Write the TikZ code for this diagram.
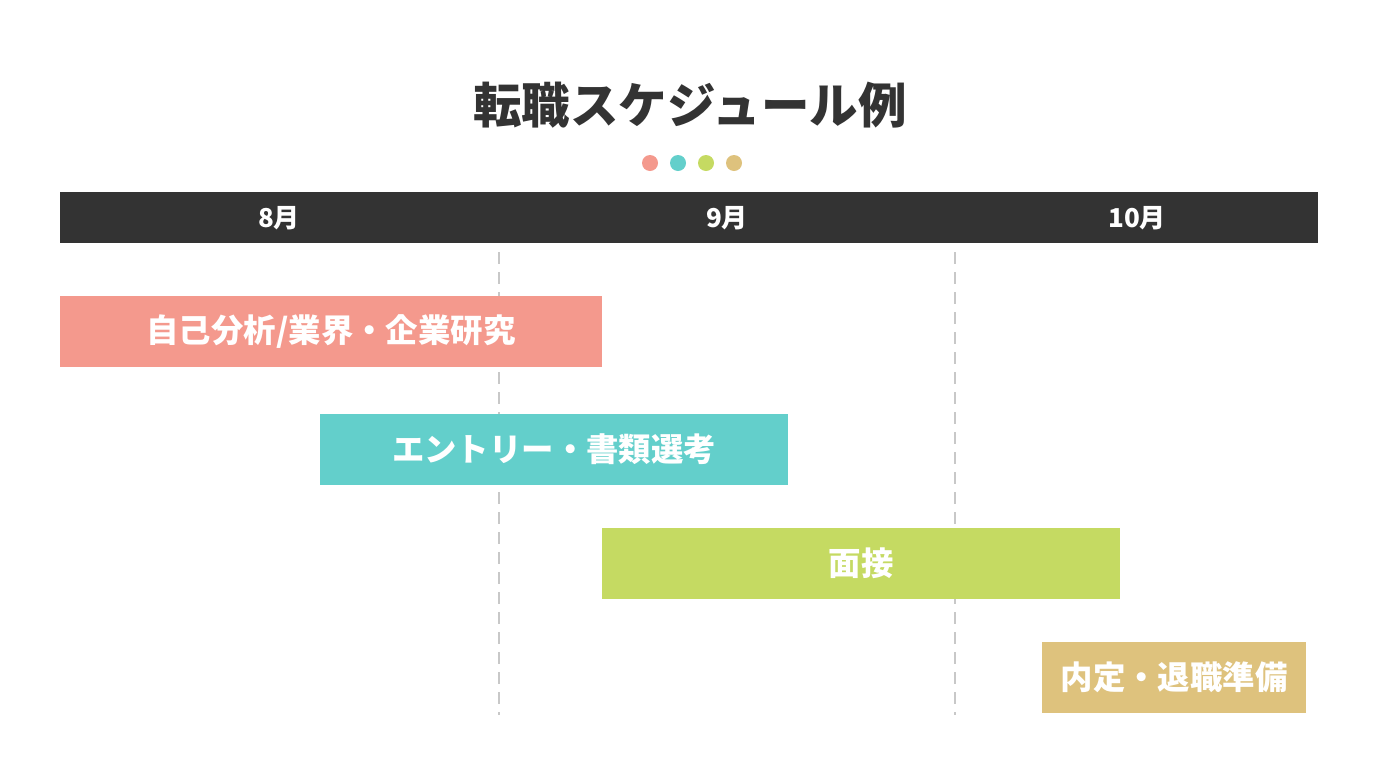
\documentclass[tikz,border=0pt]{standalone}
\usepackage{fontspec}
\setmainfont{Noto Sans CJK JP}
\definecolor{ink}{HTML}{333333}
\definecolor{salmon}{HTML}{F4998D}
\definecolor{teal}{HTML}{63CFCB}
\definecolor{lime}{HTML}{C5DA62}
\definecolor{gold}{HTML}{DEC27D}
\definecolor{guide}{HTML}{C8C8C8}
\begin{document}
\begin{tikzpicture}[x=1pt,y=-1pt,
  bar/.style={rectangle,inner sep=0pt,minimum height=71pt,text=white,font=\fontsize{32.4}{32}\selectfont\bfseries},
  month/.style={text=white,font=\fontsize{26}{26}\selectfont\bfseries},
  dot/.style={circle,inner sep=0pt,minimum size=16pt},
  guideline/.style={guide,line width=1.6pt,dash pattern=on 12pt off 8pt}]
  \useasboundingbox (0,0) rectangle (1380,772);
  % title
  \node (title) at (690,105) [text=ink,font=\fontsize{48.5}{48}\selectfont\bfseries] {転職スケジュール例};
  \node (d1) at (650,163) [dot,fill=salmon] {};
  \node (d2) at (678,163) [dot,fill=teal] {};
  \node (d3) at (706,163) [dot,fill=lime] {};
  \node (d4) at (734,163) [dot,fill=gold] {};
  % header
  \node (head) at (689,217.5) [rectangle,fill=ink,inner sep=0pt,minimum width=1258pt,minimum height=51pt] {};
  \node (aug) at (279,218) [month] {8月};
  \node (sep) at (727,218) [month] {9月};
  \node (oct) at (1137,218) [month] {10月};
  % month borders
  \coordinate (g1a) at (499,252);
  \coordinate (g1b) at (499,715);
  \coordinate (g2a) at (955,252);
  \coordinate (g2b) at (955,715);
  \draw[guideline] (g1a) -- (g1b);
  \draw[guideline] (g2a) -- (g2b);
  % tasks
  \node (self) at (331,331.5) [bar,fill=salmon,minimum width=542pt] {自己分析/業界・企業研究};
  \node (entry) at (554,449.5) [bar,fill=teal,minimum width=468pt] {エントリー・書類選考};
  \node (interview) at (861,563.5) [bar,fill=lime,minimum width=518pt] {面接};
  \node (offer) at (1174,677.5) [bar,fill=gold,minimum width=264pt] {内定・退職準備};
\end{tikzpicture}
\end{document}
